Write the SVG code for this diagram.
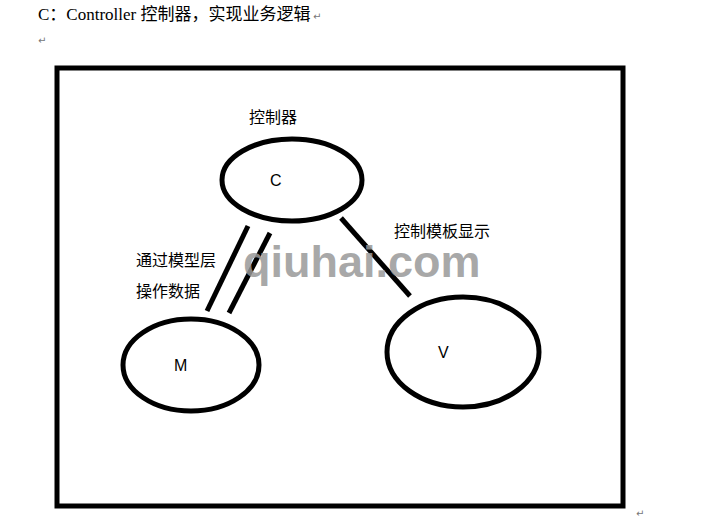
<svg xmlns="http://www.w3.org/2000/svg" width="718" height="529" viewBox="0 0 718 529">
<style>
.n{fill:none;stroke:#000;stroke-width:5}
.l{stroke:#000;stroke-width:5;stroke-linecap:butt}
.t{font-family:"Microsoft YaHei","Noto Sans CJK SC","Liberation Sans",sans-serif;font-size:16px;fill:#000}
.s{font-family:"Liberation Sans",sans-serif;font-size:16px;fill:#000}
.p{font-family:"DejaVu Sans",sans-serif;font-size:10px;fill:#777}
</style>
<rect x="0" y="0" width="718" height="529" fill="#fff"/>
<text x="38" y="20" font-family="'Liberation Serif','Noto Sans CJK SC',serif" font-size="17" fill="#000">C：Controller 控制器，实现业务逻辑</text>
<text class="p" x="313" y="20">↵</text>
<text class="p" x="38" y="44">↵</text>
<text class="p" x="636" y="517">↵</text>
<rect x="57" y="68" width="566" height="438" fill="none" stroke="#000" stroke-width="5"/>
<g id="connectors">
<line class="l" x1="248" y1="226" x2="207" y2="311"/>
<line class="l" x1="270" y1="233" x2="229" y2="313"/>
<line class="l" x1="341" y1="218" x2="410" y2="296"/>
</g>
<text x="243" y="277" font-family="'Liberation Sans',sans-serif" font-size="45" font-weight="bold" fill="#999" fill-opacity="0.85">qiuhai.com</text>
<g id="C">
<ellipse class="n" cx="292" cy="180" rx="70" ry="41"/>
<text class="t" x="249" y="123">控制器</text>
<text class="s" x="270" y="186">C</text>
</g>
<g id="M">
<ellipse class="n" cx="191" cy="365" rx="68" ry="46"/>
<text class="s" x="174" y="371">M</text>
</g>
<g id="V">
<ellipse class="n" cx="463" cy="352" rx="76" ry="55"/>
<text class="s" x="438" y="358">V</text>
</g>
<text class="t" x="136" y="266">通过模型层</text>
<text class="t" x="136" y="297">操作数据</text>
<text class="t" x="394" y="237">控制模板显示</text>
</svg>
